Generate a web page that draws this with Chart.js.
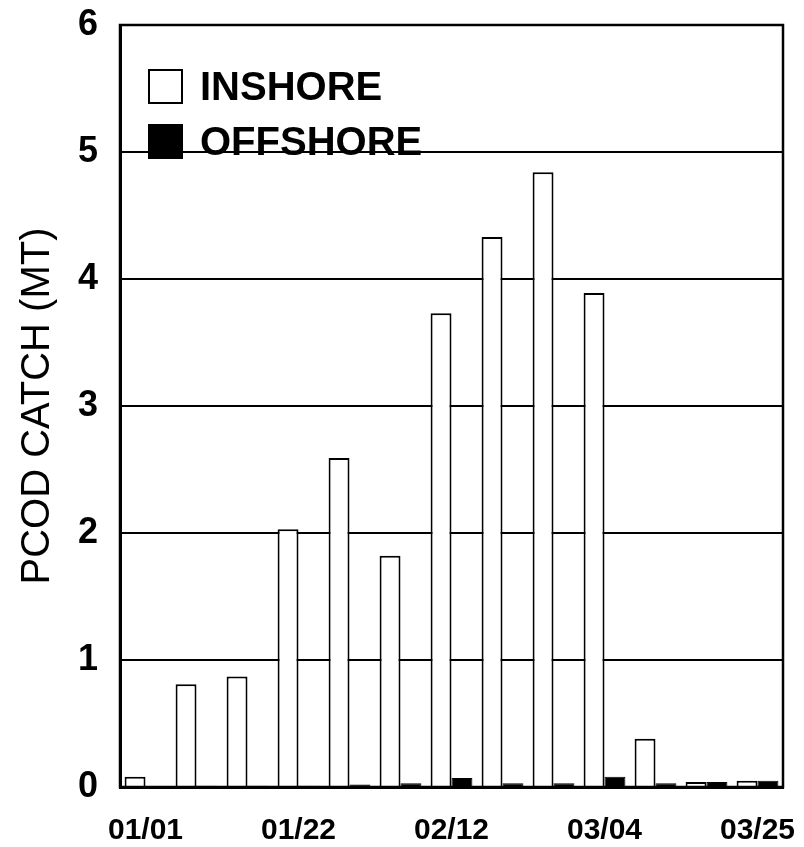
<!DOCTYPE html>
<html>
<head>
<meta charset="utf-8">
<script src="https://cdn.jsdelivr.net/npm/chart.js@4.4.1/dist/chart.umd.min.js"></script>
<style>
  body { margin: 0; background: #fff; }
  #wrap { width: 804px; height: 847px; }
</style>
</head>
<body>
<div id="wrap"><canvas id="catchChart"></canvas></div>
<script>
"use strict";

var WEEKS = ["01/01", "01/08", "01/15", "01/22", "01/29", "02/05", "02/12",
  "02/19", "02/26", "03/04", "03/11", "03/18", "03/25"];
var INSHORE = [0.08, 0.81, 0.87, 2.03, 2.59, 1.82, 3.73, 4.33, 4.84, 3.89, 0.38, 0.04, 0.05];
var OFFSHORE = [0, 0.01, 0.01, 0.01, 0.02, 0.03, 0.07, 0.03, 0.03, 0.08, 0.03, 0.04, 0.05];
var Y_TICKS = [0, 1, 2, 3, 4, 5, 6];

var FONT = "Arial, 'Liberation Sans', sans-serif";

// box round the plot (top and right edges)
var frame = {
  id: "frame",
  afterDraw: function (chart) {
    var a = chart.chartArea, ctx = chart.ctx;
    ctx.save();
    ctx.strokeStyle = "#000";
    ctx.lineWidth = 2.5;
    ctx.strokeRect(a.left, a.top, a.right - a.left, a.bottom - a.top);
    ctx.restore();
  }
};

// legend sits inside the plot, top left
var innerLegend = {
  id: "innerLegend",
  afterDraw: function (chart) {
    var ctx = chart.ctx;
    var rows = [87, 142];
    ctx.save();
    ctx.font = "bold 40px " + FONT;
    ctx.textBaseline = "middle";
    chart.data.datasets.forEach(function (ds, i) {
      var y = rows[i];
      ctx.fillStyle = ds.backgroundColor;
      ctx.fillRect(149, y - 17, 33, 33);
      ctx.strokeStyle = "#000";
      ctx.lineWidth = 2;
      ctx.strokeRect(149, y - 17, 33, 33);
      ctx.fillStyle = "#000";
      ctx.fillText(ds.label, 200, y + 2);
    });
    ctx.restore();
  }
};

new Chart(document.getElementById("catchChart"), {
  type: "bar",
  data: {
    labels: WEEKS,
    datasets: [
      {
        label: "INSHORE",
        data: INSHORE,
        backgroundColor: "#fff",
        borderColor: "#000",
        borderWidth: 2,
      },
      {
        label: "OFFSHORE",
        data: OFFSHORE,
        backgroundColor: "#000",
        borderColor: "#000",
        borderWidth: 1,
      },
    ],
  },
  options: {
    responsive: true,
    maintainAspectRatio: false,
    animation: false,
    layout: { padding: { top: 25, right: 21 } },
    datasets: {
      bar: { categoryPercentage: 0.82, barPercentage: 1.0 },
    },
    plugins: {
      legend: { display: false },
      tooltip: { enabled: false },
    },
    scales: {
      x: {
        grid: { display: false },
        border: { display: true, color: "#000", width: 3 },
        ticks: {
          autoSkip: false,
          maxRotation: 0,
          padding: 18,
          color: "#000",
          font: { family: FONT, size: 30, weight: "bold" },
          callback: function (v, i) {
            return i % 3 === 0 ? WEEKS[i] : "";
          },
        },
        afterFit: function (s) {
          s.height = 60;
          s.paddingLeft = 0;
          s.paddingRight = 0;
        },
      },
      y: {
        min: 0,
        max: 6,
        afterBuildTicks: function (s) {
          s.ticks = Y_TICKS.map(function (v) { return { value: v }; });
        },
        grid: { color: "#000", lineWidth: 2, drawTicks: false },
        border: { display: true, color: "#000", width: 3 },
        ticks: {
          padding: 22,
          color: "#000",
          font: { family: FONT, size: 36, weight: "bold" },
        },
        title: {
          display: true,
          text: "PCOD CATCH (MT)",
          color: "#000",
          font: { family: FONT, size: 40 },
          padding: { top: 14, bottom: 0 },
        },
        afterFit: function (s) {
          s.width = 120;
          s.paddingTop = 0;
          s.paddingBottom = 0;
        },
      },
    },
  },
  plugins: [frame, innerLegend],
});
</script>
</body>
</html>
